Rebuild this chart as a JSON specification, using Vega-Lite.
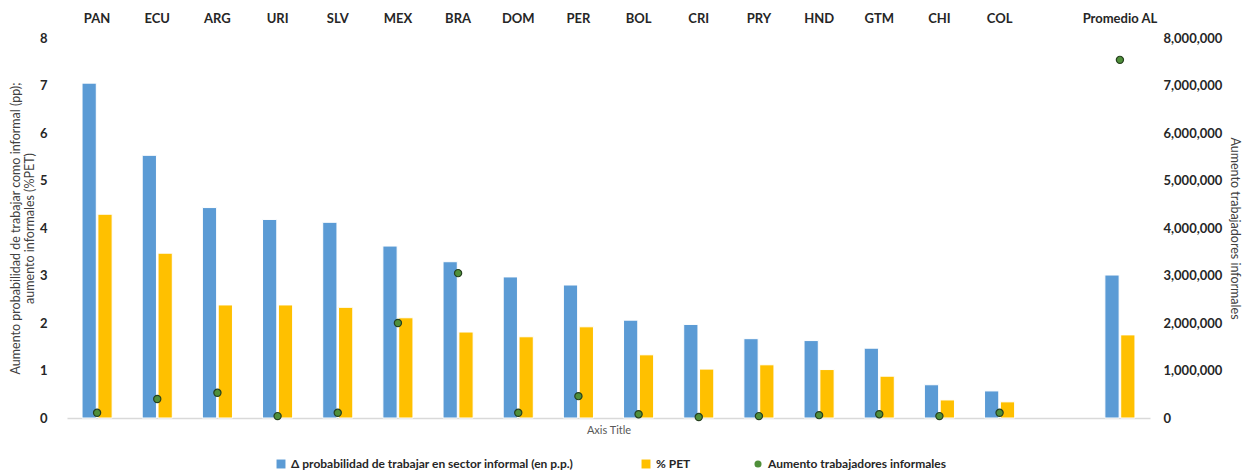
{
  "$schema": "https://vega.github.io/schema/vega-lite/v6.json",
  "width": 1083,
  "height": 380,
  "autosize": {"type": "none"},
  "padding": {"left": 67, "top": 38, "right": 96, "bottom": 54},
  "background": "white",
  "config": {
    "view": {"stroke": null},
    "font": "Lato",
    "axis": {"grid": false, "ticks": false, "labelColor": "#262626", "titleColor": "#404040"}
  },
  "datasets": {
    "bars": [
      {"pais": "PAN", "serie": "Δ probabilidad de trabajar en sector informal (en p.p.)", "valor": 7.05},
      {"pais": "ECU", "serie": "Δ probabilidad de trabajar en sector informal (en p.p.)", "valor": 5.53},
      {"pais": "ARG", "serie": "Δ probabilidad de trabajar en sector informal (en p.p.)", "valor": 4.43},
      {"pais": "URI", "serie": "Δ probabilidad de trabajar en sector informal (en p.p.)", "valor": 4.18},
      {"pais": "SLV", "serie": "Δ probabilidad de trabajar en sector informal (en p.p.)", "valor": 4.12},
      {"pais": "MEX", "serie": "Δ probabilidad de trabajar en sector informal (en p.p.)", "valor": 3.62},
      {"pais": "BRA", "serie": "Δ probabilidad de trabajar en sector informal (en p.p.)", "valor": 3.29},
      {"pais": "DOM", "serie": "Δ probabilidad de trabajar en sector informal (en p.p.)", "valor": 2.97},
      {"pais": "PER", "serie": "Δ probabilidad de trabajar en sector informal (en p.p.)", "valor": 2.80},
      {"pais": "BOL", "serie": "Δ probabilidad de trabajar en sector informal (en p.p.)", "valor": 2.06},
      {"pais": "CRI", "serie": "Δ probabilidad de trabajar en sector informal (en p.p.)", "valor": 1.97},
      {"pais": "PRY", "serie": "Δ probabilidad de trabajar en sector informal (en p.p.)", "valor": 1.67},
      {"pais": "HND", "serie": "Δ probabilidad de trabajar en sector informal (en p.p.)", "valor": 1.63},
      {"pais": "GTM", "serie": "Δ probabilidad de trabajar en sector informal (en p.p.)", "valor": 1.47},
      {"pais": "CHI", "serie": "Δ probabilidad de trabajar en sector informal (en p.p.)", "valor": 0.70},
      {"pais": "COL", "serie": "Δ probabilidad de trabajar en sector informal (en p.p.)", "valor": 0.57},
      {"pais": "Promedio AL", "serie": "Δ probabilidad de trabajar en sector informal (en p.p.)", "valor": 3.01},
      {"pais": "PAN", "serie": "% PET", "valor": 4.29},
      {"pais": "ECU", "serie": "% PET", "valor": 3.47},
      {"pais": "ARG", "serie": "% PET", "valor": 2.38},
      {"pais": "URI", "serie": "% PET", "valor": 2.38},
      {"pais": "SLV", "serie": "% PET", "valor": 2.33},
      {"pais": "MEX", "serie": "% PET", "valor": 2.11},
      {"pais": "BRA", "serie": "% PET", "valor": 1.81},
      {"pais": "DOM", "serie": "% PET", "valor": 1.71},
      {"pais": "PER", "serie": "% PET", "valor": 1.92},
      {"pais": "BOL", "serie": "% PET", "valor": 1.33},
      {"pais": "CRI", "serie": "% PET", "valor": 1.03},
      {"pais": "PRY", "serie": "% PET", "valor": 1.12},
      {"pais": "HND", "serie": "% PET", "valor": 1.02},
      {"pais": "GTM", "serie": "% PET", "valor": 0.88},
      {"pais": "CHI", "serie": "% PET", "valor": 0.38},
      {"pais": "COL", "serie": "% PET", "valor": 0.34},
      {"pais": "Promedio AL", "serie": "% PET", "valor": 1.75}
    ],
    "puntos": [
      {"pais": "PAN", "trabajadores": 110000},
      {"pais": "ECU", "trabajadores": 400000},
      {"pais": "ARG", "trabajadores": 530000},
      {"pais": "URI", "trabajadores": 40000},
      {"pais": "SLV", "trabajadores": 110000},
      {"pais": "MEX", "trabajadores": 2000000},
      {"pais": "BRA", "trabajadores": 3050000},
      {"pais": "DOM", "trabajadores": 110000},
      {"pais": "PER", "trabajadores": 460000},
      {"pais": "BOL", "trabajadores": 80000},
      {"pais": "CRI", "trabajadores": 20000},
      {"pais": "PRY", "trabajadores": 40000},
      {"pais": "HND", "trabajadores": 60000},
      {"pais": "GTM", "trabajadores": 80000},
      {"pais": "CHI", "trabajadores": 40000},
      {"pais": "COL", "trabajadores": 110000},
      {"pais": "Promedio AL", "trabajadores": 7540000}
    ]
  },
  "layer": [
    {
      "data": {"name": "bars"},
      "mark": {"type": "bar", "stroke": "#ffffff", "strokeWidth": 1},
      "encoding": {
        "x": {
          "field": "pais", "type": "nominal", "sort": null,
          "scale": {"domain": ["PAN","ECU","ARG","URI","SLV","MEX","BRA","DOM","PER","BOL","CRI","PRY","HND","GTM","CHI","COL"," ","Promedio AL"], "paddingInner": 0.5, "paddingOuter": 0.25},
          "axis": {"orient": "top", "title": null, "labelAngle": 0, "domain": false, "labelFontWeight": "bold", "labelFontSize": 13, "labelPadding": 13, "labelColor": "#262626"}
        },
        "xOffset": {"field": "serie", "type": "nominal", "scale": {"domain": ["Δ probabilidad de trabajar en sector informal (en p.p.)", "% PET"], "paddingInner": 0.1}},
        "y": {
          "field": "valor", "type": "quantitative",
          "scale": {"domain": [0, 8], "nice": false},
          "axis": {"orient": "left", "values": [0,1,2,3,4,5,6,7,8], "domain": false, "labelFontWeight": "bold", "labelFontSize": 13, "labelPadding": 20,
            "title": ["Aumento probabilidad de trabajar como informal (pp);", "aumento informales (%PET)"], "titleFontSize": 12.5, "titleFontWeight": "normal", "titlePadding": 3, "titleLineHeight": 14}
        },
        "color": {
          "field": "serie", "type": "nominal",
          "scale": {"domain": ["Δ probabilidad de trabajar en sector informal (en p.p.)", "% PET"], "range": ["#5B9BD5", "#FFC000"]},
          "legend": {
            "orient": "none", "legendX": 208, "legendY": 420, "direction": "horizontal", "title": null,
            "symbolType": "square", "symbolSize": 80, "symbolStrokeWidth": 0,
            "labelFontWeight": "bold", "labelFontSize": 12, "labelColor": "#262626", "labelLimit": 400, "columnPadding": 66, "labelOffset": 4
          }
        }
      }
    },
    {
      "data": {"name": "puntos"},
      "mark": {"type": "point", "filled": true, "size": 52, "fill": "#4F8F3A", "stroke": "#26401f", "strokeWidth": 1.2, "opacity": 1},
      "encoding": {
        "x": {
          "field": "pais", "type": "nominal", "sort": null,
          "axis": {"orient": "bottom", "labels": false, "domain": true, "domainColor": "#d9d9d9", "domainWidth": 1.5, "title": "Axis Title", "titleColor": "#595959", "titleFontSize": 11, "titleFontWeight": "normal", "titlePadding": 6}
        },
        "y": {
          "field": "trabajadores", "type": "quantitative",
          "scale": {"domain": [0, 8000000], "nice": false},
          "axis": {"orient": "right", "values": [0,1000000,2000000,3000000,4000000,5000000,6000000,7000000,8000000], "format": ",d", "domain": false,
            "labelFontWeight": "bold", "labelFontSize": 13, "labelPadding": 13,
            "title": "Aumento trabajadores informales", "titleFontSize": 12.5, "titleFontWeight": "normal", "titlePadding": 6}
        },
        "shape": {
          "datum": "Aumento trabajadores informales",
          "scale": {"domain": ["Aumento trabajadores informales"], "range": ["circle"]},
          "legend": {
            "orient": "none", "legendX": 685, "legendY": 420, "direction": "horizontal", "title": null,
            "symbolSize": 50, "symbolFillColor": "#4F8F3A", "symbolStrokeColor": "#26401f", "symbolStrokeWidth": 1,
            "labelFontWeight": "bold", "labelFontSize": 12, "labelColor": "#262626", "labelLimit": 400, "labelOffset": 4
          }
        }
      }
    }
  ],
  "resolve": {"scale": {"y": "independent"}, "axis": {"x": "independent"}}
}
